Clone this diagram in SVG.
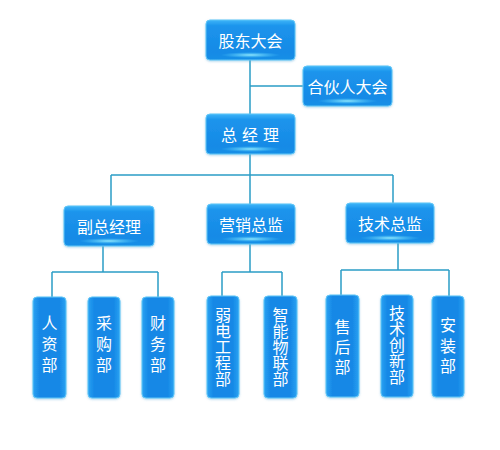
<svg xmlns="http://www.w3.org/2000/svg" width="500" height="450" viewBox="0 0 500 450">
<defs>
<linearGradient id="bg" x1="0" y1="0" x2="0" y2="1">
<stop offset="0" stop-color="#3db4f8"/>
<stop offset="0.15" stop-color="#1c94ec"/>
<stop offset="0.8" stop-color="#168ae6"/>
<stop offset="1" stop-color="#1a8fe6"/>
</linearGradient>
<linearGradient id="bgv" x1="0" y1="0" x2="1" y2="0">
<stop offset="0" stop-color="#2aa2f2"/>
<stop offset="0.2" stop-color="#1688e6"/>
<stop offset="0.8" stop-color="#1688e6"/>
<stop offset="1" stop-color="#2aa2f2"/>
</linearGradient>
<radialGradient id="glow" cx="0.5" cy="0.5" r="0.5">
<stop offset="0" stop-color="#9ff2ff" stop-opacity="0.9"/>
<stop offset="1" stop-color="#4fd0ff" stop-opacity="0"/>
</radialGradient>
<filter id="sh" x="-20%" y="-20%" width="140%" height="140%">
<feDropShadow dx="0" dy="1" stdDeviation="1.2" flood-color="#5aa9d8" flood-opacity="0.5"/>
</filter>
</defs>
<style>
.box{fill:url(#bg);stroke:#5fc6f7;stroke-width:1;filter:url(#sh)}
.vbox{fill:url(#bgv);stroke:#5fc6f7;stroke-width:1;filter:url(#sh)}
.gl{fill:url(#glow)}
.t{font-family:"Noto Sans CJK SC","Noto Sans",sans-serif;font-size:16px;fill:#ffffff;text-anchor:middle;dominant-baseline:central}
.v{font-family:"Noto Sans CJK SC","Noto Sans",sans-serif;font-size:16px;fill:#ffffff;text-anchor:middle;writing-mode:vertical-rl}
.con line{stroke:#2a9cc6;stroke-width:1.5}
</style>
<rect width="500" height="450" fill="#ffffff"/>
<g class="con">
<line x1="250" y1="60" x2="250" y2="114"/>
<line x1="250" y1="86" x2="303" y2="86"/>
<line x1="250" y1="154" x2="250" y2="204"/>
<line x1="111" y1="175" x2="393" y2="175"/>
<line x1="111" y1="175" x2="111" y2="206"/>
<line x1="393" y1="175" x2="393" y2="203"/>
<line x1="103" y1="246" x2="103" y2="272"/>
<line x1="52" y1="272" x2="158" y2="272"/>
<line x1="52" y1="272" x2="52" y2="297"/>
<line x1="158" y1="272" x2="158" y2="297"/>
<line x1="250" y1="244" x2="250" y2="272"/>
<line x1="222" y1="272" x2="282" y2="272"/>
<line x1="222" y1="272" x2="222" y2="296"/>
<line x1="282" y1="272" x2="282" y2="296"/>
<line x1="398" y1="243" x2="398" y2="270"/>
<line x1="341" y1="270" x2="449" y2="270"/>
<line x1="341" y1="270" x2="341" y2="295"/>
<line x1="449" y1="270" x2="449" y2="296"/>
</g>
<g id="gudong">
<rect class="box" x="206" y="20" width="89" height="40" rx="4"/>
<ellipse class="gl" cx="250.5" cy="55" rx="30" ry="3"/>
<text class="t" x="250.5" y="40">股东大会</text>
</g>
<g id="hehuo">
<rect class="box" x="303" y="66" width="89" height="40" rx="4"/>
<ellipse class="gl" cx="347.5" cy="101" rx="30" ry="3"/>
<text class="t" x="347.5" y="86">合伙人大会</text>
</g>
<g id="zongjingli">
<rect class="box" x="206" y="114" width="89" height="40" rx="4"/>
<ellipse class="gl" cx="250.5" cy="149" rx="30" ry="3"/>
<text class="t" x="252.5" y="134" letter-spacing="5">总经理</text>
</g>
<g id="fuzong">
<rect class="box" x="64" y="206" width="90" height="40" rx="4"/>
<ellipse class="gl" cx="109" cy="241" rx="30" ry="3"/>
<text class="t" x="109" y="226">副总经理</text>
</g>
<g id="yingxiao">
<rect class="box" x="207" y="204" width="88" height="40" rx="4"/>
<ellipse class="gl" cx="251" cy="239" rx="30" ry="3"/>
<text class="t" x="251" y="224">营销总监</text>
</g>
<g id="jishu">
<rect class="box" x="346" y="203" width="88" height="40" rx="4"/>
<ellipse class="gl" cx="390" cy="238" rx="30" ry="3"/>
<text class="t" x="390" y="223">技术总监</text>
</g>
<g id="renzi">
<rect class="vbox" x="33" y="297" width="33" height="101" rx="4"/>
<text class="v" x="49.5" y="346.5" letter-spacing="5">人资部</text>
</g>
<g id="caigou">
<rect class="vbox" x="88" y="297" width="32" height="101" rx="4"/>
<text class="v" x="104" y="346.5" letter-spacing="5">采购部</text>
</g>
<g id="caiwu">
<rect class="vbox" x="142" y="297" width="32" height="101" rx="4"/>
<text class="v" x="158" y="346.5" letter-spacing="5">财务部</text>
</g>
<g id="ruodian">
<rect class="vbox" x="207" y="296" width="32" height="102" rx="4"/>
<text class="v" x="223" y="347">弱电工程部</text>
</g>
<g id="zhineng">
<rect class="vbox" x="264" y="296" width="33" height="102" rx="4"/>
<text class="v" x="280.5" y="347">智能物联部</text>
</g>
<g id="shouhou">
<rect class="vbox" x="326" y="295" width="33" height="102" rx="4"/>
<text class="v" x="342.5" y="349" letter-spacing="4">售后部</text>
</g>
<g id="chuangxin">
<rect class="vbox" x="381" y="295" width="32" height="102" rx="4"/>
<text class="v" x="397" y="345">技术创新部</text>
</g>
<g id="anzhuang">
<rect class="vbox" x="432" y="296" width="32" height="101" rx="4"/>
<text class="v" x="448" y="348" letter-spacing="4.5">安装部</text>
</g>
</svg>
